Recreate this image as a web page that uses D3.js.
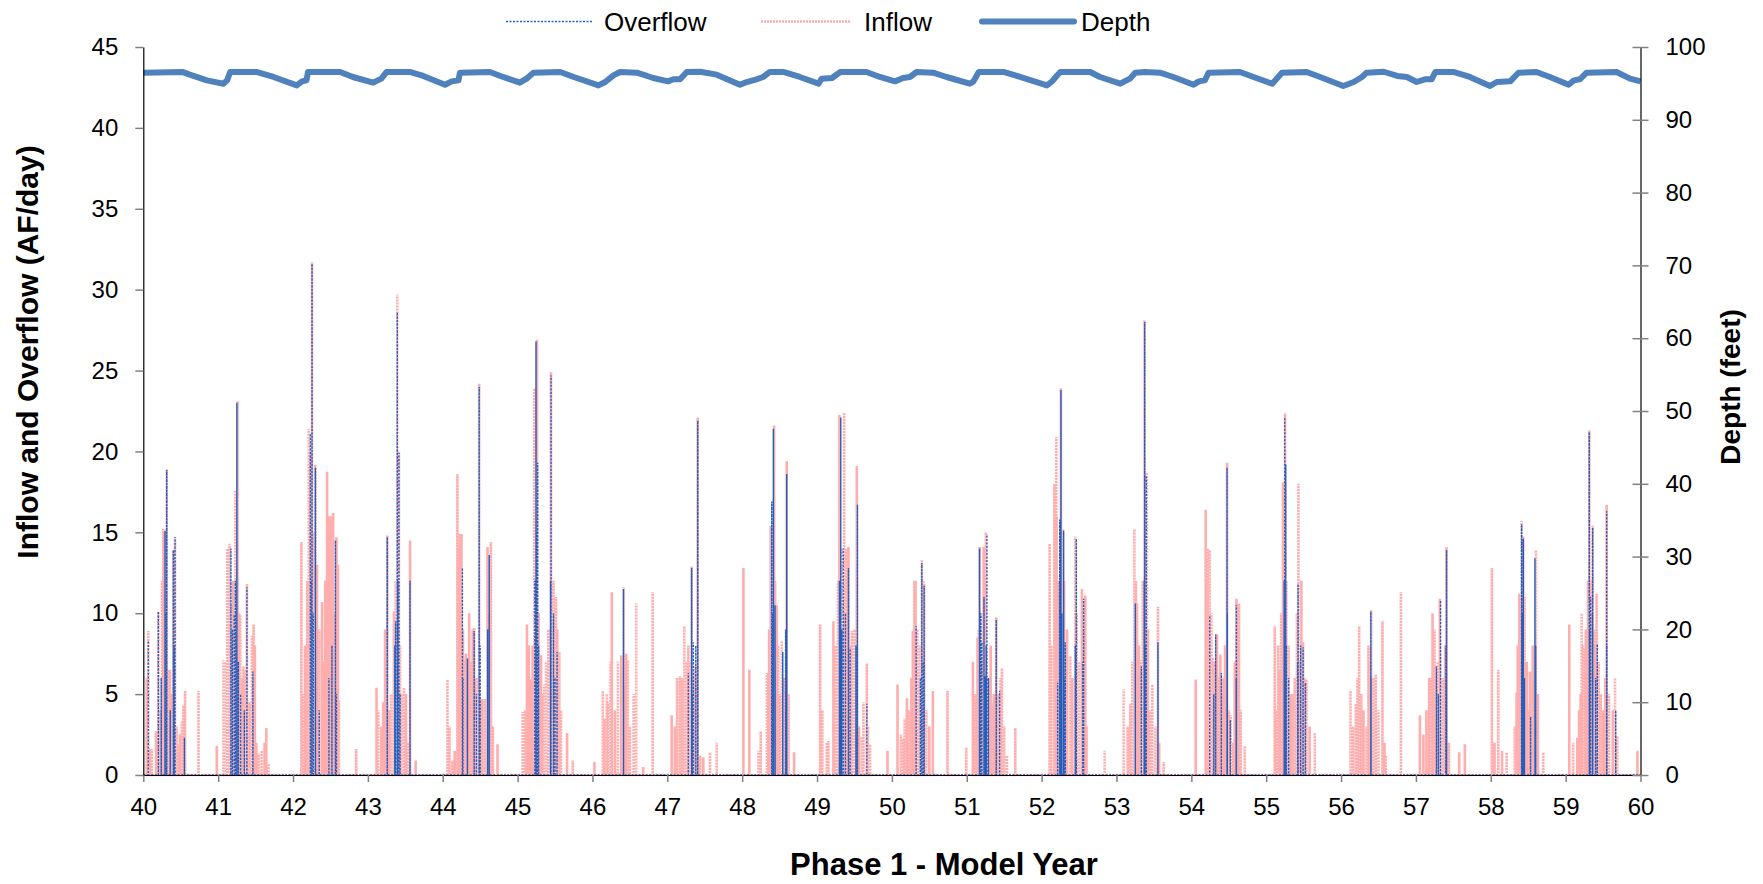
<!DOCTYPE html>
<html><head><meta charset="utf-8">
<script src="https://cdn.jsdelivr.net/npm/d3@7"></script>
<style>
html,body{margin:0;padding:0;background:#fff;}
svg text{font-family:"Liberation Sans",Arial,sans-serif;fill:#000;}
</style></head>
<body>
<svg id="c" width="1763" height="884"></svg>
<script>
// ---- data ----
const yearTicks = [40,41,42,43,44,45,46,47,48,49,50,51,52,53,54,55,56,57,58,59,60];
const leftTicks = [0,5,10,15,20,25,30,35,40,45];
const rightTicks = [0,10,20,30,40,50,60,70,80,90,100];

// main inflow peaks
const inflowYear = [40.045,40.067,40.112,40.170,40.201,40.268,40.313,40.357,40.402,40.424,40.469,40.513,40.558,40.737,40.982,
41.071,41.152,41.183,41.228,41.259,41.295,41.339,41.384,41.451,41.473,41.540,41.643,41.674,
42.112,42.210,42.254,42.299,42.388,42.455,42.536,42.580,42.612,42.844,
43.116,43.205,43.259,43.348,43.393,43.415,43.482,43.563,43.638,
44.063,44.129,44.196,44.250,44.286,44.353,44.420,44.487,44.522,44.598,44.643,44.732,
45.067,45.125,45.179,45.223,45.259,45.313,45.357,45.446,45.513,45.558,45.661,45.737,
46.027,46.138,46.205,46.259,46.384,46.415,46.473,46.585,46.679,46.804,
47.058,47.169,47.227,47.281,47.325,47.370,47.406,47.481,47.570,47.660,
48.016,48.096,48.217,48.248,48.350,48.381,48.426,48.462,48.529,48.595,48.693,
49.041,49.152,49.219,49.299,49.362,49.420,49.464,49.531,49.598,49.665,49.709,49.941,
50.075,50.155,50.200,50.280,50.316,50.400,50.431,50.547,50.743,50.993,
51.082,51.144,51.171,51.225,51.256,51.336,51.394,51.470,51.537,51.648,
52.107,52.196,52.258,52.285,52.316,52.383,52.450,52.539,52.584,52.842,
53.096,53.185,53.239,53.275,53.332,53.376,53.407,53.479,53.554,53.630,
54.058,54.192,54.245,54.290,54.343,54.388,54.477,54.526,54.602,54.637,54.713,
55.114,55.181,55.225,55.252,55.324,55.430,55.493,55.537,55.649,
56.126,56.197,56.242,56.366,56.402,56.464,56.553,56.598,56.799,
57.053,57.177,57.222,57.266,57.320,57.409,57.578,57.654,
58.015,58.100,58.211,58.345,58.381,58.412,58.434,58.470,58.523,58.603,58.701,
59.049,59.156,59.214,59.258,59.316,59.361,59.414,59.548,59.660,59.691,59.959];
const inflowValue = [6.0,8.9,1.6,2.7,10.1,15.2,18.9,6.5,13.9,14.7,1.9,3.3,5.2,5.2,1.8,
7.1,14.3,10.5,17.6,23.1,9.9,6.7,11.8,8.6,9.3,1.35,2.9,0.7,
14.4,21.4,31.7,19.2,10.7,18.75,16.2,14.7,4.6,1.6,
5.4,4.5,14.8,10.1,29.7,20.0,5.4,14.5,0.9,
5.9,0.9,18.6,14.9,7.1,10.0,9.1,24.2,4.7,14.1,14.4,1.9,
3.9,9.3,5.9,23.9,26.9,7.4,5.6,24.9,11.0,7.6,2.6,0.9,
0.8,5.2,4.5,11.3,7.4,11.6,7.1,10.6,0.5,11.3,
3.7,6.1,9.2,8.0,12.9,6.7,22.1,1.1,1.4,2.0,
12.8,6.5,1.5,2.7,6.3,15.4,21.6,10.5,8.3,19.4,1.4,
9.3,2.1,9.5,22.25,22.4,14.1,8.9,19.1,2.35,6.9,1.9,1.5,
5.6,2.25,4.75,8.9,12.0,13.3,11.8,5.2,5.2,1.7,
7.0,8.5,14.1,14.1,15.0,4.4,9.75,6.6,1.2,2.9,
14.3,20.9,23.9,15.2,8.2,7.35,14.75,11.5,11.1,1.5,
5.3,4.4,15.2,10.6,7.1,28.1,18.7,5.6,10.4,0.8,
5.9,16.4,13.9,7.25,8.7,7.45,19.3,3.7,10.9,10.6,1.8,
9.2,6.5,18.1,22.35,5.0,18.0,8.2,5.9,2.6,
5.2,4.4,9.2,8.0,10.2,6.2,9.5,1.2,11.3,
3.7,6.0,10.0,6.7,10.9,14.1,1.4,1.9,
12.8,6.5,1.4,5.1,11.2,15.7,14.75,6.9,6.4,13.9,1.4,
9.3,2.3,10.0,7.8,21.3,15.4,11.2,16.7,6.0,2.4,1.5];

// lower inflow days inside the wet seasons
const inflowLowYear = [40.09,40.232,40.25,40.281,40.335,40.379,40.446,40.49,40.536,
41.09,41.12,41.20,41.24,41.28,41.32,41.36,41.42,41.49,41.51,41.58,41.62,
42.13,42.16,42.19,42.23,42.27,42.32,42.35,42.41,42.43,42.48,42.50,42.52,42.56,42.60,
43.14,43.18,43.23,43.28,43.31,43.37,43.43,43.45,43.51,43.53,
44.09,44.16,44.21,44.23,44.27,44.31,44.38,44.40,44.45,44.50,44.56,44.62,44.67,
45.10,45.15,45.20,45.24,45.28,45.33,45.38,45.41,45.48,45.53,45.58,
46.16,46.19,46.24,46.30,46.34,46.43,46.45,46.50,46.55,
47.10,47.13,47.20,47.25,47.30,47.35,47.39,47.44,
48.33,48.36,48.40,48.44,48.48,48.50,48.56,48.62,
49.07,49.13,49.25,49.28,49.33,49.36,49.39,49.45,49.50,49.56,49.62,49.68,
50.12,50.17,50.23,50.26,50.30,50.34,50.37,50.42,50.46,50.50,
51.11,51.16,51.20,51.24,51.29,51.32,51.36,51.42,51.45,51.50,
52.13,52.17,52.20,52.23,52.27,52.30,52.34,52.41,52.47,52.50,52.55,52.60,
53.15,53.21,53.26,53.30,53.35,53.39,53.42,53.45,53.52,53.57,
54.20,54.22,54.27,54.31,54.36,54.41,54.43,54.45,54.50,54.56,54.58,54.62,54.66,
55.13,55.16,55.20,55.23,55.27,55.30,55.35,55.38,55.41,55.45,55.47,55.51,55.58,
56.16,56.22,56.27,56.30,56.34,56.38,56.43,56.50,56.58,
57.10,57.14,57.20,57.25,57.29,57.36,57.39,57.44,
58.05,58.15,58.32,58.36,58.39,58.42,58.45,58.48,58.50,58.56,58.60,58.63,
59.10,59.18,59.20,59.23,59.27,59.30,59.33,59.35,59.38,59.40,59.44,59.47,59.50,59.53,59.58,59.63];
const inflowLowValue = [1.6,4,12,15,6.5,5,3,2.5,4.3,
7,14,12,9,10,6,6.5,4.5,8,2,1.5,2,
5,8,12,20,15,13,9,7,12,16,16,14,10,13,
4,3,9,4,5,12,8,5,5,2,
3,1.5,14,14.9,9,7.5,7,9,6,4,4.7,10,3,
4,8,8,12,10,5,7,9,12,9,4,
3.5,5,7,4,7,5.5,7.5,3,5,
3,6,6,7,7,6,6,1.2,
6.3,9,10,12,8,5,6,5,
4,2,8,12,14,10,14,8,9,3,4.5,3,
2.5,3.5,4,6,12,9,8,12,4,3,
5,9,7,12,6,8,5,5,6,3,
8,18,16,12,10,12,9,6,10,7,9,3,
3,7,12,8,12,14,9,4,3,2,
12,14,10,7,6,5,6,8,4,2,7,9,4,
4,8,10,15,12,8,5,6,10,7,12,6,3,
3,6,5,4,3,7,6,4,2,
2.5,4,6,9,7,6,8,2,
2,1.5,3,8,10,9,11,7,4,8,9,5,
2,4,5,8,9,12,10,12,9,8,7,5,4,6,5,4];

// overflow peaks
const overflowYear = [40.067,40.201,40.290,40.313,40.402,40.424,40.549,
41.170,41.214,41.250,41.384,41.464,
42.232,42.254,42.299,42.567,
43.259,43.371,43.393,43.415,43.563,
44.263,44.330,44.420,44.487,44.621,
45.246,45.268,45.446,45.527,46.415,
47.281,47.325,47.348,47.406,
48.395,48.417,48.439,48.542,48.595,
49.317,49.420,49.442,49.540,49.665,
50.324,50.400,50.431,
51.171,51.202,51.247,51.269,51.394,51.439,
52.214,52.241,52.258,52.294,52.316,52.463,52.561,
53.252,53.332,53.376,53.398,53.554,
54.245,54.325,54.401,54.477,54.521,54.602,
55.248,55.261,55.426,55.493,55.524,56.398,
57.275,57.329,57.409,
58.412,58.434,58.532,58.590,
59.316,59.334,59.361,59.423,59.548,59.669];
const overflowValue = [8.3,10.1,15.1,18.85,13.9,14.7,2.3,
14.0,9.9,23.0,11.6,6.4,
21.1,31.6,19.0,14.5,
14.7,9.5,28.6,19.9,12.0,
12.8,7.2,8.9,24.0,13.6,
26.8,19.3,24.7,7.6,11.5,
6.3,12.8,8.2,21.9,
16.9,21.4,10.5,7.6,18.6,
22.1,12.8,7.8,16.7,4.4,
9.2,13.1,11.7,
14.0,8.2,6.1,14.85,9.6,5.2,
5.7,15.8,23.8,15.1,8.2,14.6,10.9,
10.6,6.7,28.0,18.5,8.2,
9.85,8.7,6.3,19.0,3.4,10.5,
22.1,19.2,11.8,7.9,5.7,10.1,
6.7,10.8,13.9,
15.5,14.6,3.6,13.4,
21.2,11.0,15.3,8.1,16.3,4.0];

// lower overflow days
const overflowLowYear = [40.24,40.30,40.36,40.41,41.19,41.23,41.27,41.30,41.35,
42.24,42.27,42.30,42.35,42.48,42.52,42.58,43.36,43.40,43.43,
44.27,44.45,44.50,44.60,45.23,45.25,45.28,45.44,45.48,45.50,
47.33,47.38,48.41,48.44,48.58,49.30,49.33,49.35,49.38,49.52,
50.38,50.42,51.19,51.23,51.26,51.29,52.24,52.27,52.30,52.45,52.55,
53.37,53.39,54.30,54.48,54.60,55.24,55.27,55.30,55.42,55.46,
56.40,57.30,57.40,58.42,58.45,58.60,59.32,59.36,59.40,59.55];
const overflowLowValue = [6,10,4,8,9,12,7,5,4,
12,10,8,4,6,8,5,8,12,5,
6,5,8,9,12,15,8,12,10,6,
5,8,10,7,9,12,9,14,10,8,
6,7,10,11,8,6,12,10,6,8,7,
12,8,5,10,6,12,8,6,7,8,
6,5,8,10,6,8,9,10,6,8];

const depthYear = [40.0,40.53,40.62,40.85,41.07,41.12,41.16,41.51,41.74,42.05,42.12,42.18,42.2,42.63,42.8,43.07,43.18,43.25,43.56,43.74,
44.03,44.12,44.21,44.23,44.63,44.77,45.03,45.12,45.21,45.57,45.75,46.08,46.17,46.28,46.37,46.59,46.73,46.81,47.01,47.08,47.17,47.26,47.44,47.66,
47.97,48.06,48.19,48.28,48.37,48.55,48.77,49.02,49.06,49.2,49.31,49.66,49.84,50.04,50.15,50.24,50.33,50.55,50.73,51.04,51.09,51.16,51.49,51.67,
52.07,52.14,52.2,52.25,52.65,52.78,53.05,53.18,53.25,53.38,53.58,53.76,54.03,54.1,54.18,54.23,54.65,54.83,55.08,55.14,55.21,55.54,55.72,
56.03,56.17,56.28,56.34,56.57,56.75,56.88,57.01,57.12,57.21,57.26,57.5,57.72,57.99,58.08,58.26,58.37,58.61,58.79,59.04,59.11,59.19,59.28,59.68,59.86,60.0];
const depthValue = [96.47,96.55,96.2,95.42,94.96,95.42,96.57,96.57,95.88,94.73,95.28,95.42,96.57,96.57,95.88,95.1,95.65,96.57,96.57,96.02,
94.82,95.28,95.42,96.47,96.57,96.02,95.1,95.65,96.47,96.57,95.88,94.73,95.19,96.11,96.57,96.47,96.02,95.74,95.28,95.56,95.56,96.57,96.6,96.2,
94.82,95.19,95.56,95.88,96.57,96.57,95.88,94.96,95.65,95.74,96.57,96.57,95.88,95.28,95.74,95.88,96.57,96.47,95.88,94.96,95.28,96.57,96.57,96.02,
94.73,95.28,96.02,96.57,96.57,95.88,94.96,95.65,96.47,96.57,96.47,95.88,94.82,95.28,95.42,96.47,96.57,95.88,94.96,95.65,96.47,96.57,95.88,
94.64,95.19,95.88,96.47,96.6,96.02,95.88,95.19,95.56,95.56,96.57,96.57,95.88,94.64,95.19,95.28,96.47,96.57,95.88,94.82,95.42,95.56,96.47,96.57,95.65,95.28];

// ---- layout ----
const svg = d3.select("#c");
const L = 143.3, R = 1640.5, T = 47, B = 775;
const x = d3.scaleLinear().domain([40,60]).range([L,R]);
const yL = d3.scaleLinear().domain([0,45]).range([B,T]);
const yR = d3.scaleLinear().domain([0,100]).range([B,T]);

const tickFont = "24px";

function spikePath(ys, vs){
  const pts = ys.map((t,i)=>[t,vs[i]]).sort((a,b)=>a[0]-b[0]);
  const seq = [[40,0]];
  pts.forEach(p=>{ seq.push([p[0],0]); seq.push([p[0],p[1]]); seq.push([p[0],0]); });
  seq.push([60,0]);
  return d3.line().x(d=>x(d[0])).y(d=>yL(d[1]))(seq);
}

svg.append("path").attr("d", spikePath(inflowYear.concat(inflowLowYear), inflowValue.concat(inflowLowValue)))
  .attr("fill","none").attr("stroke","#ff8a8a").attr("stroke-width",2.6)
  .attr("stroke-dasharray","2,1").attr("stroke-opacity",0.7);

svg.append("path").attr("d", spikePath(overflowYear.concat(overflowLowYear), overflowValue.concat(overflowLowValue)))
  .attr("fill","none").attr("stroke","#1f5fc0").attr("stroke-width",1.4)
  .attr("stroke-dasharray","2,1.5");

svg.append("path").datum(depthYear.map((t,i)=>[t,depthValue[i]]))
  .attr("d", d3.line().x(d=>x(d[0])).y(d=>yR(d[1])))
  .attr("fill","none").attr("stroke","#4f81bd").attr("stroke-width",6)
  .attr("stroke-linejoin","round").attr("stroke-linecap","butt");

function styleAxis(g){
  g.select(".domain").attr("stroke","#000").attr("stroke-width",1.2);
  g.selectAll(".tick line").attr("stroke","#808080").attr("stroke-width",1.5);
  g.selectAll(".tick text").style("font-size",tickFont).attr("fill","#000");
}
const gx = svg.append("g").attr("transform",`translate(0,${B})`)
  .call(d3.axisBottom(x).tickValues(yearTicks).tickFormat(d3.format("d")).tickSize(7).tickSizeOuter(0).tickPadding(16));
styleAxis(gx);
const gl = svg.append("g").attr("transform",`translate(${L},0)`)
  .call(d3.axisLeft(yL).tickValues(leftTicks).tickFormat(d3.format("d")).tickSize(8).tickSizeOuter(0).tickPadding(17));
styleAxis(gl);
const gr = svg.append("g").attr("transform",`translate(${R},0)`)
  .call(d3.axisRight(yR).tickValues(rightTicks).tickFormat(d3.format("d")).tickSize(8).tickSizeOuter(0).tickPadding(17));
styleAxis(gr);
gr.selectAll(".tick line").attr("x1",-8);

// titles
svg.append("text").attr("x",944).attr("y",875).attr("text-anchor","middle")
  .style("font-size","31px").style("font-weight","bold").text("Phase 1 - Model Year");
svg.append("text").attr("transform",`translate(38,352) rotate(-90)`).attr("text-anchor","middle")
  .style("font-size","30px").style("font-weight","bold").text("Inflow and Overflow (AF/day)");
svg.append("text").attr("transform",`translate(1740,387) rotate(-90)`).attr("text-anchor","middle")
  .style("font-size","28px").style("font-weight","bold").text("Depth (feet)");

// legend
const legendNames = ["Overflow","Inflow","Depth"];
const legendX = [506,761,982];
const legendTextX = [604,864,1081];
const ly = 21.5;
svg.append("line").attr("x1",legendX[0]).attr("x2",legendX[0]+87).attr("y1",ly).attr("y2",ly)
  .attr("stroke","#1f5fc0").attr("stroke-width",1.4).attr("stroke-dasharray","2,1.5");
svg.append("line").attr("x1",legendX[1]).attr("x2",legendX[1]+90).attr("y1",ly).attr("y2",ly)
  .attr("stroke","#ff8a8a").attr("stroke-width",2.6).attr("stroke-dasharray","2,1").attr("stroke-opacity",0.7);
svg.append("line").attr("x1",legendX[2]).attr("x2",legendX[2]+92).attr("y1",ly).attr("y2",ly)
  .attr("stroke","#4f81bd").attr("stroke-width",6).attr("stroke-linecap","round");
legendNames.forEach((n,i)=>{
  svg.append("text").attr("x",legendTextX[i]).attr("y",ly+9.5).style("font-size","26px").text(n);
});
</script>
</body></html>
